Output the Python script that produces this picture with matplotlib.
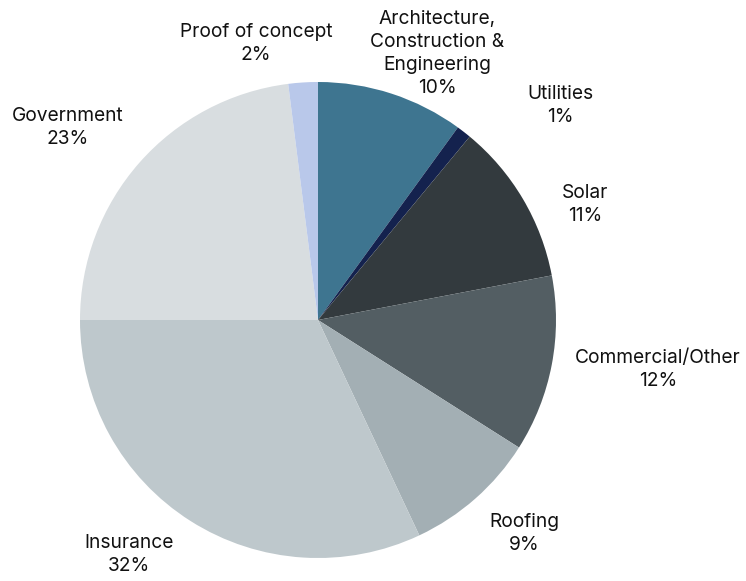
import numpy as np
import matplotlib.pyplot as plt

plt.rcParams['font.family'] = ['Inter', 'DejaVu Sans']

sectors = ['Architecture,\nConstruction &\nEngineering', 'Utilities', 'Solar',
           'Commercial/Other', 'Roofing', 'Insurance', 'Government', 'Proof of concept']
shares = [10, 1, 11, 12, 9, 32, 23, 2]
colors = ['#3e7590', '#14224e', '#333a3e', '#535e63', '#a3afb4', '#bec8cc', '#d8dde0', '#b9c8ea']

# label centres, in units of the pie radius
label_pos = [(0.50, 1.118), (1.017, 0.903), (1.122, 0.487), (1.429, -0.206),
             (0.866, -0.899), (-0.794, -0.987), (-1.050, 0.807), (-0.261, 1.160)]

W, H = 746, 581
cx, cy, r = 318, 320, 238

fig = plt.figure(figsize=(W / 100, H / 100), dpi=100)
ax = fig.add_axes([0, 0, 1, 1])
ax.pie(shares, colors=colors, startangle=90, counterclock=False, radius=1,
       wedgeprops=dict(linewidth=0))
ax.set_xlim(-cx / r, (W - cx) / r)
ax.set_ylim(-(H - cy) / r, cy / r)
ax.set_aspect('auto')
ax.axis('off')

for name, val, (x, y) in zip(sectors, shares, label_pos):
    ax.text(x, y, f'{name}\n{val}%', ha='center', va='center', fontsize=13.8,
            color='#111111', linespacing=1.36)

fig.savefig('out.png', dpi=100)
